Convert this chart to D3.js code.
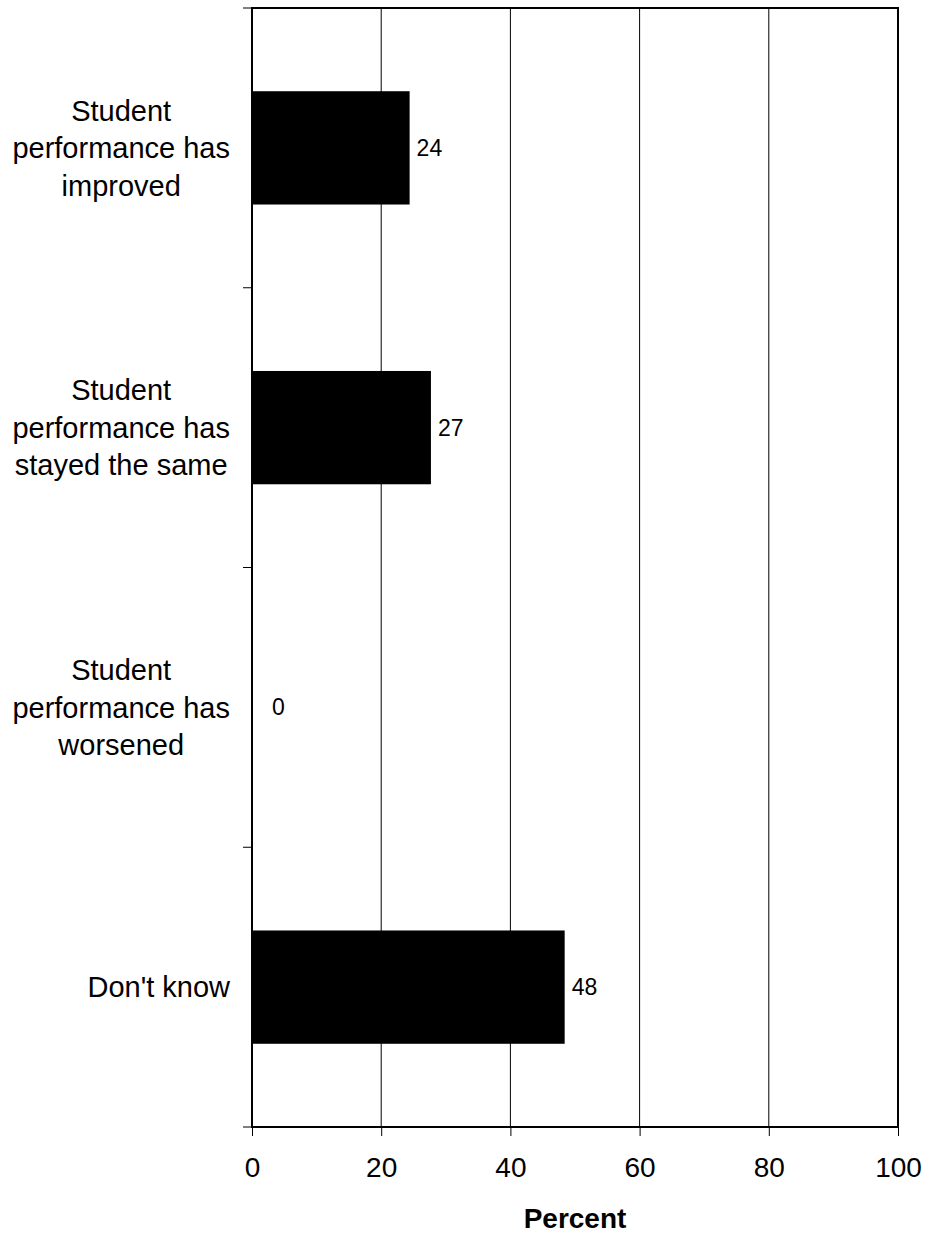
<!DOCTYPE html>
<html>
<head>
<meta charset="utf-8">
<script src="https://cdn.jsdelivr.net/npm/d3@7"></script>
<style>
  body { margin: 0; background: #fff; }
  text { font-family: Arial, "Liberation Sans", sans-serif; fill: #000; }
</style>
</head>
<body>
<div id="container"></div>
<script>
const width = 926, height = 1233;

// categories, each an array of label lines
const categories = [
    ["Student", "performance has", "improved"],
    ["Student", "performance has", "stayed the same"],
    ["Student", "performance has", "worsened"],
    ["Don't know"]
];
const values = [24.4, 27.7, 0, 48.4];
const valueLabels = ["24", "27", "0", "48"];
const xTicks = [0, 20, 40, 60, 80, 100];
const xTitle = "Percent";

const margin = {top: 8, right: 28, bottom: 106, left: 252};

const svg = d3.select("#container").append("svg")
    .attr("width", width)
    .attr("height", height);

const x = d3.scaleLinear().domain([0, 100]).range([margin.left, width - margin.right]);
const y = d3.scaleBand().domain(d3.range(categories.length))
    .range([margin.top, height - margin.bottom]).padding(0);

const barH = y.bandwidth() * 0.405;

// vertical gridlines
svg.append("g")
    .selectAll("line")
    .data(xTicks.slice(1, -1))
    .enter().append("line")
    .attr("x1", d => x(d)).attr("x2", d => x(d))
    .attr("y1", margin.top).attr("y2", height - margin.bottom)
    .attr("stroke", "#000").attr("stroke-width", 1);

// bars
svg.append("g")
    .selectAll("rect")
    .data(values)
    .enter().append("rect")
    .attr("x", x(0))
    .attr("y", (d, i) => y(i) + (y.bandwidth() - barH) / 2)
    .attr("width", d => x(d) - x(0))
    .attr("height", barH)
    .attr("fill", "#000");

// value labels
svg.append("g")
    .selectAll("text")
    .data(values)
    .enter().append("text")
    .attr("x", d => Math.max(x(d), x(0) + 13) + 7)
    .attr("y", (d, i) => y(i) + y.bandwidth() / 2)
    .attr("dy", "0.35em")
    .attr("font-size", 23)
    .text((d, i) => valueLabels[i]);

// frame
svg.append("rect")
    .attr("x", x(0)).attr("y", margin.top)
    .attr("width", x(100) - x(0))
    .attr("height", height - margin.bottom - margin.top)
    .attr("fill", "none").attr("stroke", "#000").attr("stroke-width", 2);

// x axis
const xAxis = svg.append("g")
    .attr("transform", `translate(0,${height - margin.bottom})`)
    .call(d3.axisBottom(x).tickValues(xTicks).tickSize(9).tickPadding(21));
xAxis.select(".domain").remove();
xAxis.selectAll("line").attr("stroke", "#000").attr("stroke-width", 1);
xAxis.selectAll("text")
    .attr("font-size", 28)
    .attr("font-family", "Arial, 'Liberation Sans', sans-serif");

// y axis ticks at category boundaries
svg.append("g")
    .selectAll("line")
    .data(d3.range(categories.length + 1))
    .enter().append("line")
    .attr("x1", x(0) - 9).attr("x2", x(0))
    .attr("y1", i => i < categories.length ? y(i) : y.range()[1])
    .attr("y2", i => i < categories.length ? y(i) : y.range()[1])
    .attr("stroke", "#000").attr("stroke-width", 1);

// category labels: block right-aligned at 230, lines centred within block
const lineH = 37.5, labelRight = 230;
svg.append("g")
    .selectAll("text")
    .data(categories)
    .enter().append("text")
    .attr("text-anchor", "middle")
    .attr("font-size", 29)
    .attr("y", (d, i) => y(i) + y.bandwidth() / 2 - (d.length - 1) * lineH / 2)
    .each(function (d) {
        const t = d3.select(this);
        const spans = t.selectAll("tspan")
            .data(d)
            .enter().append("tspan")
            .attr("dy", (s, j) => j === 0 ? "0.35em" : lineH)
            .text(s => s);
        const maxW = d3.max(spans.nodes(), n => n.getComputedTextLength());
        spans.attr("x", labelRight - maxW / 2);
    });

// x title
svg.append("text")
    .attr("x", (x(0) + x(100)) / 2)
    .attr("y", 1228)
    .attr("text-anchor", "middle")
    .attr("font-size", 28)
    .attr("font-weight", "bold")
    .text(xTitle);
</script>
</body>
</html>
